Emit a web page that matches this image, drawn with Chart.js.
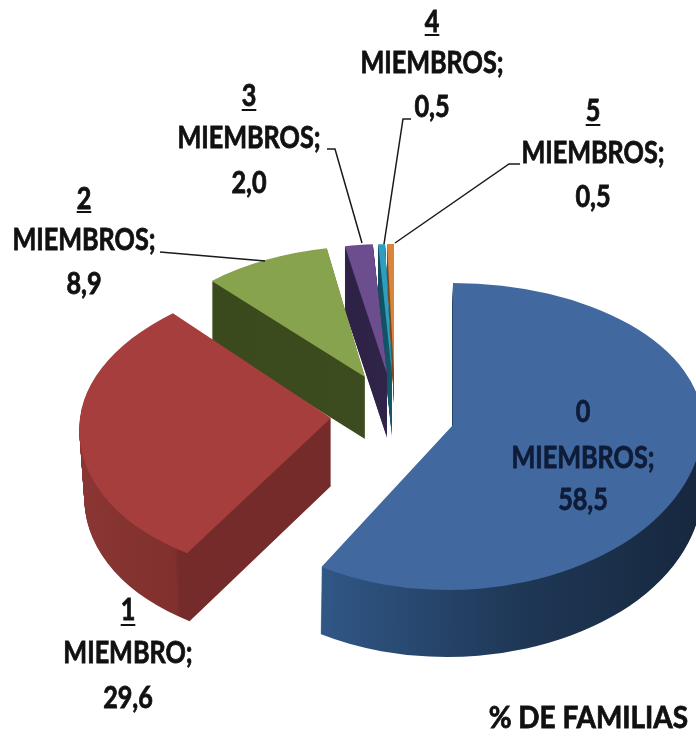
<!DOCTYPE html>
<html><head><meta charset="utf-8">
<style>html,body{margin:0;padding:0;background:#fff}canvas{display:block}</style>
<script src="https://cdn.jsdelivr.net/npm/chart.js@4"></script>
</head><body><canvas id="c" width="696" height="737"></canvas>
<script>
const categories = ['0','1','2','3','4','5'];
const words = ['MIEMBROS;','MIEMBRO;','MIEMBROS;','MIEMBROS;','MIEMBROS;','MIEMBROS;'];
const values = [58.5,29.6,8.9,2.0,0.5,0.5];
const topColors = ['#41699f','#a53e3c','#88a34e','#6c4d8e','#2f9dbd','#d9853b'];
const chartTitle = '% DE FAMILIAS';

// 3D look: per-slice placement of the exploded, tilted slice
const looks = [
 {ax:453,ay:425,rx:250,up:142,down:165,shear:0,shearDown:-0.03,depth:67,wallDx:-1,shrink:0,wall:[[323,'#305887'],[420,'#28486f'],[520,'#1f3857'],[696,'#17283f']]},
 {ax:331,ay:418,rx:251,up:143,down:157,shear:-0.12,shearDown:-0.12,depth:68,wallDx:0,shrink:0.02,wall:[[80,'#8a3634'],[190,'#80302e'],[194,'#752b29'],[331,'#742b29']]},
 {ax:365,ay:377,rx:231,up:131,down:131,shear:-0.04,shearDown:-0.04,depth:62,wallDx:0,shrink:0,wall:[[212,'#3a4a1c'],[367,'#3c4c1e']]},
 {ax:387,ay:374,rx:225,up:130,down:130,shear:0,shearDown:0,depth:64,wallDx:0,shrink:0,wall:[[345,'#2d2245'],[390,'#30244a']]},
 {ax:392,ay:374,rx:220,up:130,down:130,shear:0,shearDown:0,depth:63,wallDx:0,shrink:0,wall:[[379,'#0f4f60'],[392,'#14586a']]},
 {ax:394,ay:374,rx:220,up:130,down:130,shear:0,shearDown:0,depth:30,wallDx:0,shrink:0,wall:[[387,'#7a4a1e'],[394,'#7a4a1e']]}
];
const labelAt = [
 {x:583,y:[412,458,500],under:null,color:'#0e1c38'},
 {x:128,y:[610,653,698],under:625,color:'#111'},
 {x:84, y:[199,240,284],under:212,color:'#111'},
 {x:249,y:[96,138,183], under:110,color:'#111'},
 {x:432,y:[22,63,107],  under:35,color:'#111'},
 {x:593,y:[111,153,197],under:125,color:'#111'}
];
const leaders = [null,null,
 [[160,252],[265,261]],
 [[327,149],[335,149],[362,243]],
 [[411,119],[403,119],[384,244]],
 [[520,164],[509,164],[395,243]]
];
const LABEL_FONT = 'bold 30px Lato', LABEL_SX = 0.84;
const TITLE_FONT = 'bold 31px Lato', TITLE_SX = 0.9;

function stretchedText(ctx, s, x, y, sx){
  ctx.save();
  ctx.translate(x,y); ctx.scale(sx,1);
  ctx.strokeStyle = ctx.fillStyle; ctx.lineWidth = 0.8;
  ctx.fillText(s,0,0);
  ctx.strokeText(s,0,0);
  ctx.restore();
}
function drawSlice(chart, el, look, color, dx, dy, sh){
  const ctx = chart.ctx, W = chart.width, H = chart.height;
  const R = el.outerRadius, a = look.rx * (sh||1) / R;
  const orig = el.options;
  const o = Object.create(orig);
  Object.defineProperty(o,'backgroundColor',{value:color});
  el.options = o;
  const tx = look.ax + dx, ty = look.ay + dy;
  [[0,ty,look.up,look.shear],[ty,H-ty,look.down,look.shearDown]].forEach(([cy,ch,ry,shear])=>{
    const d = ry / R;
    const c = shear * d;
    ctx.save();
    ctx.beginPath(); ctx.rect(0,cy,W,ch); ctx.clip();
    // map (el.x, el.y) onto the slice apex
    ctx.transform(a,0,c,d, tx - a*el.x - c*el.y, ty - d*el.y);
    el.draw(ctx);
    ctx.restore();
  });
  el.options = orig;
}
function wallFill(ctx, el, look){
  const a = look.rx / el.outerRadius;
  const toLocal = g => el.x + (g - look.ax)/a;
  const xs = look.wall.map(s=>s[0]);
  const x0 = xs[0], x1 = xs[xs.length-1];
  const g = ctx.createLinearGradient(toLocal(x0),el.y,toLocal(x1),el.y);
  look.wall.forEach(s=>g.addColorStop((s[0]-x0)/(x1-x0),s[1]));
  return g;
}
const pie3d = {
  id:'pie3d',
  beforeDatasetDraw(chart,args){
    const ctx = chart.ctx;
    const els = args.meta.data;
    const order = [5,4,3,2,1,0];
    order.forEach(i=>{
      const el = els[i], look = looks[i];
      const fill = wallFill(ctx,el,look);
      for(let d=look.depth;d>=1;d--){
        drawSlice(chart,el,look,fill,look.wallDx*d/look.depth,d,1-look.shrink*d/look.depth);
      }
      drawSlice(chart,el,look,topColors[i],0,0,1);
    });
    return false;
  },
  afterDraw(chart){
    const ctx = chart.ctx;
    ctx.save();
    ctx.strokeStyle='#1a1a1a'; ctx.lineWidth=1.5;
    leaders.forEach(pts=>{
      if(!pts) return;
      ctx.beginPath();
      pts.forEach((p,k)=> k?ctx.lineTo(p[0],p[1]):ctx.moveTo(p[0],p[1]));
      ctx.stroke();
    });
    ctx.font=LABEL_FONT; ctx.textAlign='center'; ctx.textBaseline='middle';
    categories.forEach((cat,i)=>{
      const L = labelAt[i];
      ctx.fillStyle=L.color;
      stretchedText(ctx,cat,L.x,L.y[0],LABEL_SX);
      stretchedText(ctx,words[i],L.x,L.y[1],LABEL_SX);
      stretchedText(ctx,values[i].toFixed(1).replace('.',','),L.x,L.y[2],LABEL_SX);
      if(L.under){
        const w=ctx.measureText(cat).width*LABEL_SX;
        ctx.strokeStyle=L.color; ctx.lineWidth=2;
        ctx.beginPath(); ctx.moveTo(L.x-w/2,L.under); ctx.lineTo(L.x+w/2,L.under); ctx.stroke();
      }
    });
    ctx.font=TITLE_FONT; ctx.textAlign='right'; ctx.fillStyle='#111';
    stretchedText(ctx,chartTitle,688,718,TITLE_SX);
    ctx.restore();
  }
};
new Chart(document.getElementById('c'),{
  type:'pie',
  data:{labels:categories,datasets:[{data:values,backgroundColor:topColors,borderWidth:0}]},
  options:{
    responsive:false,animation:false,
    layout:{padding:0},
    plugins:{legend:{display:false},tooltip:{enabled:false},title:{display:false}}
  },
  plugins:[pie3d]
});
</script></body></html>
